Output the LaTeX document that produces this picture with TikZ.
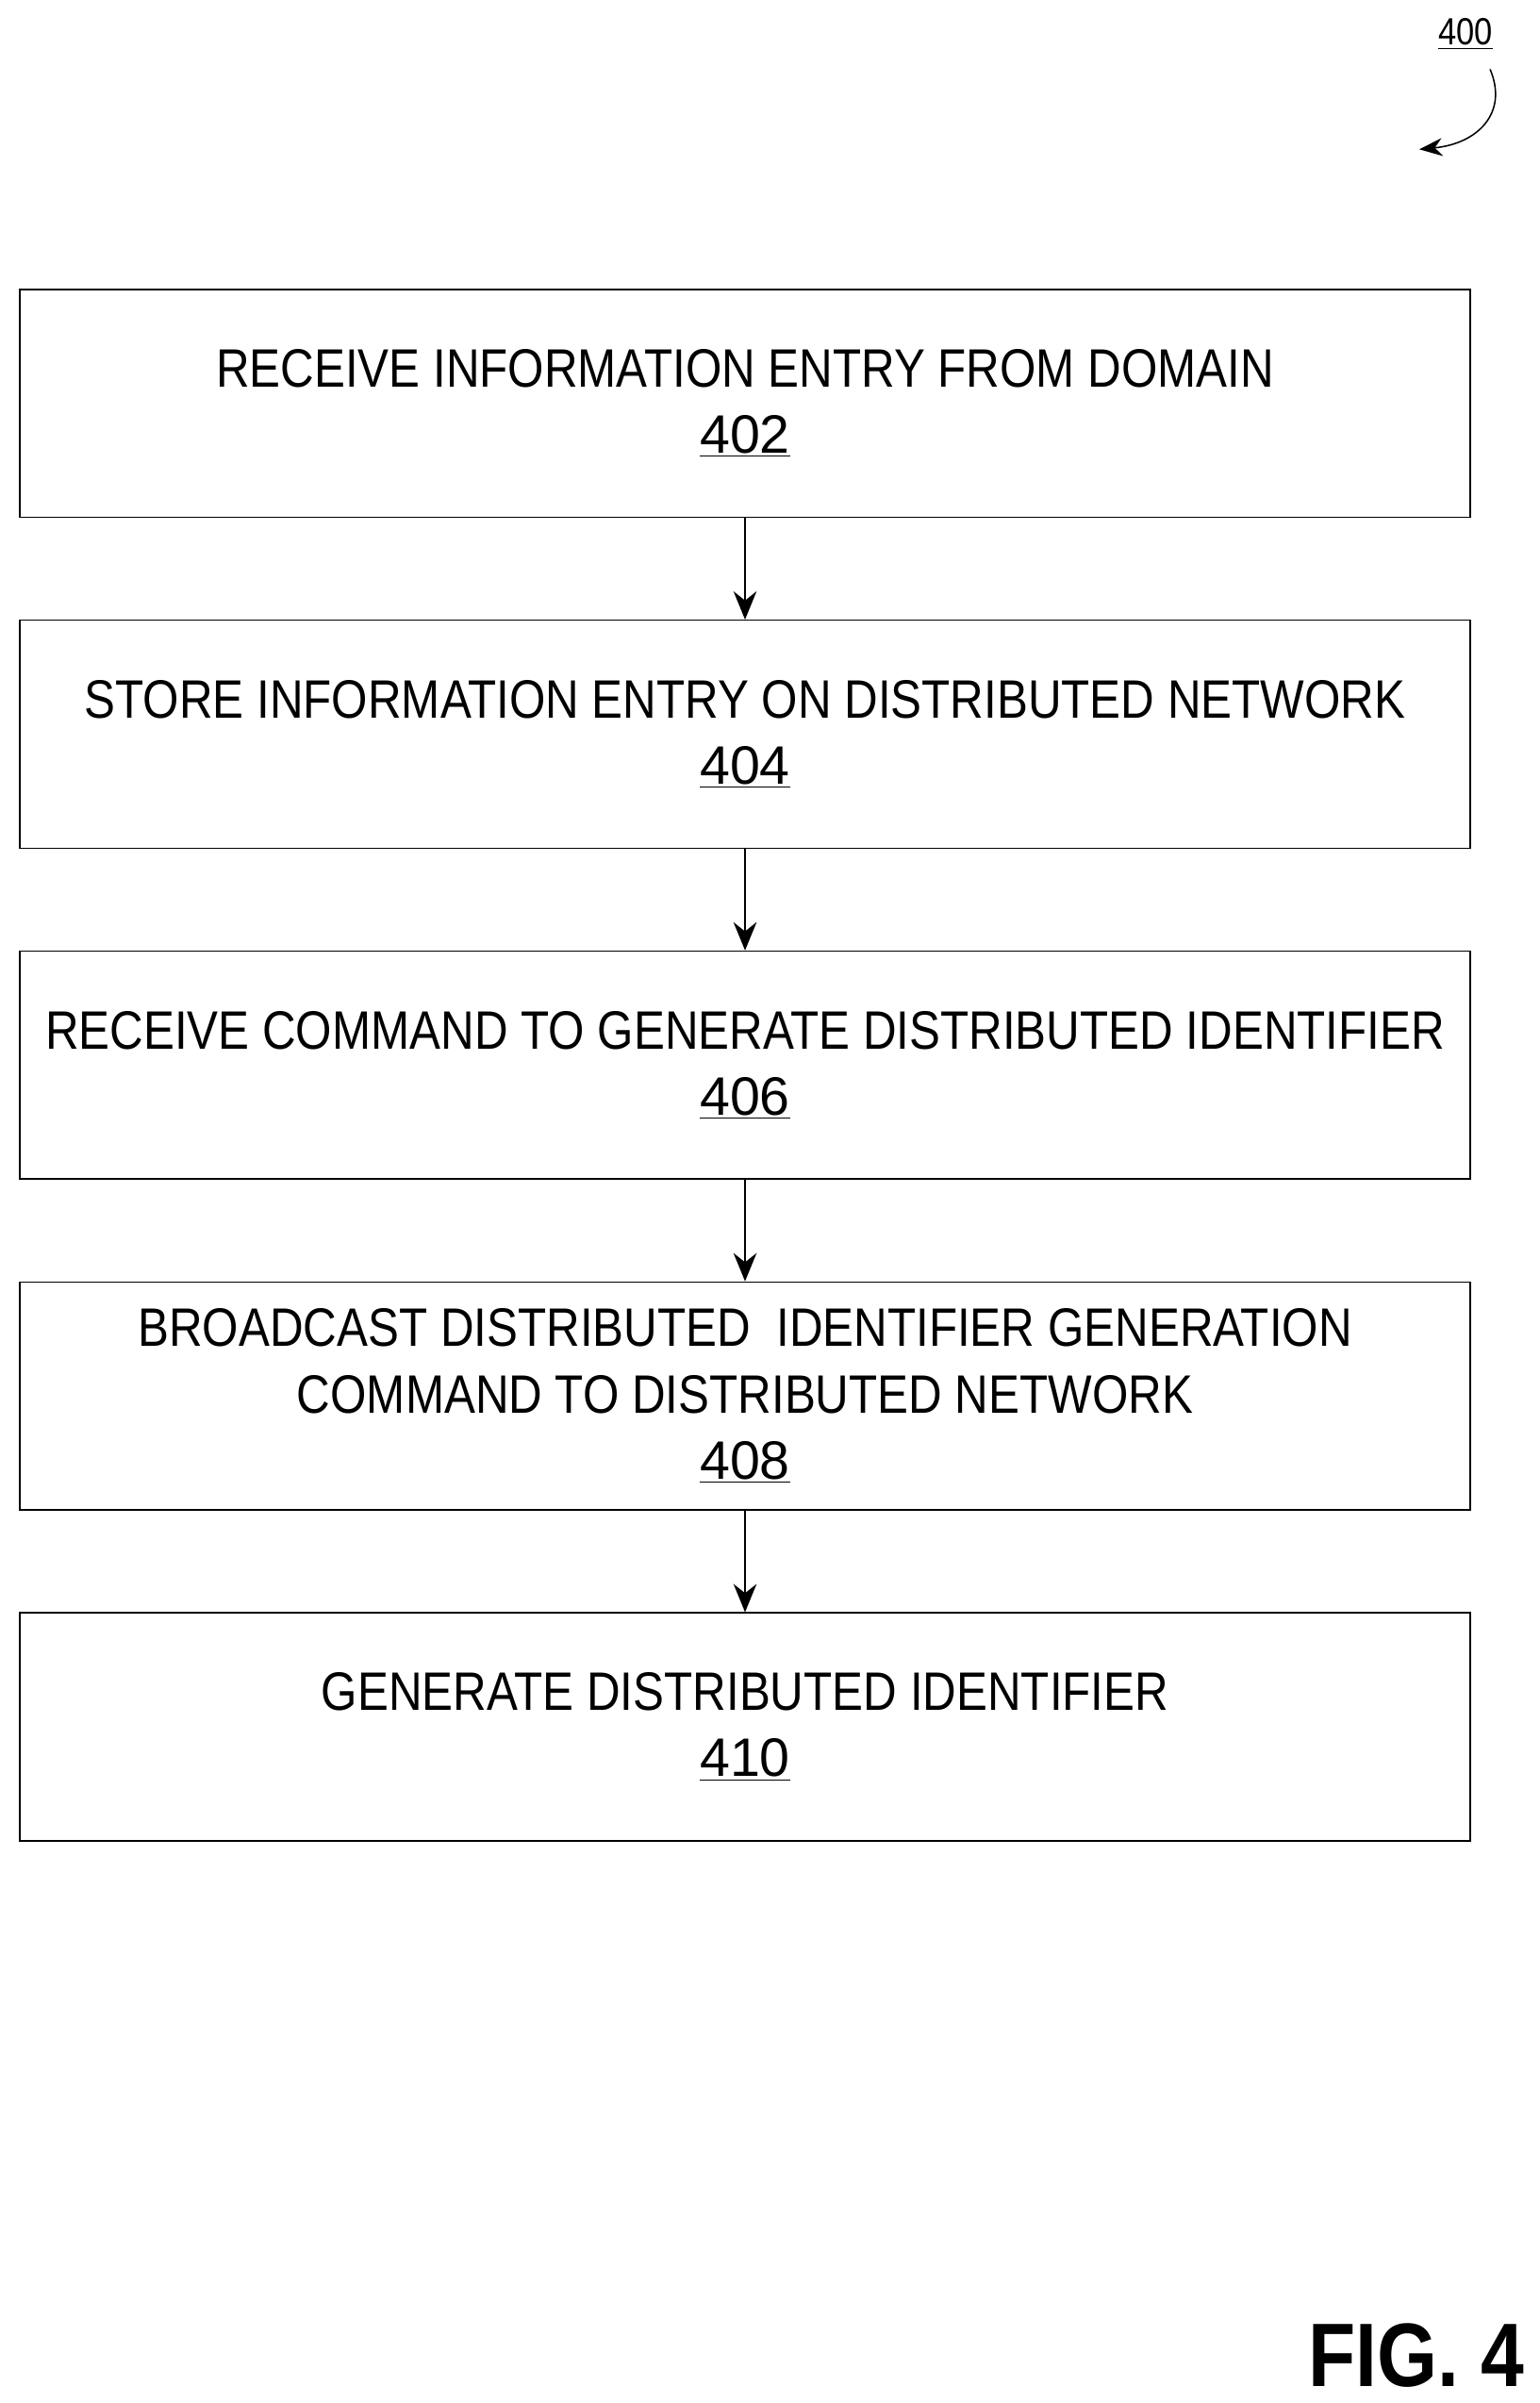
\documentclass[tikz,border=0pt]{standalone}
\usepackage{fontspec}
\setmainfont{Liberation Sans}
\usetikzlibrary{positioning, arrows.meta}
\begin{document}
\begin{tikzpicture}
    % Stili dei blocchi
    \tikzset{
        step_box/.style={
            draw=black,
            thick,
            minimum width=28.26cm,
            minimum height=4.44cm,
            align=center,
            font=\fontsize{30}{36.7}\selectfont,
            inner sep=0pt
        },
        step_arrow/.style={
            draw=black,
            very thick,
            -{Stealth[length=0.55cm,width=0.45cm]}
        }
    }
    \useasboundingbox (0,0) rectangle (30,-46.83);

    % Blocchi
    \node[step_box] (step_402) at (14.52,-7.86) {\scalebox{0.86}[1]{RECEIVE INFORMATION ENTRY FROM DOMAIN}\\\underline{402}};
    \node[step_box, below=1.98cm of step_402] (step_404) {\scalebox{0.86}[1]{STORE INFORMATION ENTRY ON DISTRIBUTED NETWORK}\\\underline{404}};
    \node[step_box, below=1.98cm of step_404] (step_406) {\scalebox{0.86}[1]{RECEIVE COMMAND TO GENERATE DISTRIBUTED IDENTIFIER}\\\underline{406}};
    \node[step_box, below=1.98cm of step_406] (step_408) {\scalebox{0.86}[1]{BROADCAST DISTRIBUTED\ \ IDENTIFIER GENERATION}\\\scalebox{0.86}[1]{COMMAND TO DISTRIBUTED NETWORK}\\\underline{408}};
    \node[step_box, below=1.98cm of step_408] (step_410) {\scalebox{0.86}[1]{GENERATE DISTRIBUTED IDENTIFIER}\\\underline{410}};

    % Frecce
    \draw[step_arrow] (step_402) -- (step_404);
    \draw[step_arrow] (step_404) -- (step_406);
    \draw[step_arrow] (step_406) -- (step_408);
    \draw[step_arrow] (step_408) -- (step_410);

    % Etichetta 400
    \node[font=\fontsize{21}{24}\selectfont] (fig_ref) at (28.56,-0.66) {\scalebox{0.86}[1]{\underline{400}}};
    \coordinate (fig_ref_tip) at (27.66,-2.91);
    \draw[thick, -{Stealth[length=0.45cm,width=0.35cm]}] (29.04,-1.35) .. controls (29.4,-2.2) and (28.8,-2.8) .. (fig_ref_tip);

    % Titolo figura
    \node[font=\fontsize{50}{56}\bfseries\selectfont] (fig_title) at (27.6,-45.9) {\scalebox{0.86}[1]{FIG. 4}};
\end{tikzpicture}
\end{document}
